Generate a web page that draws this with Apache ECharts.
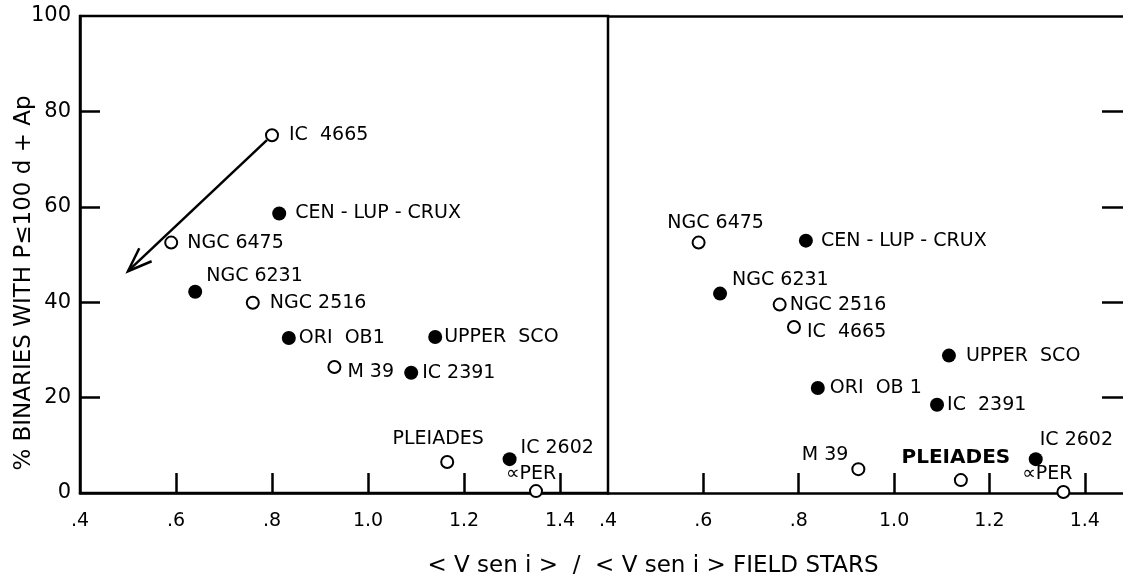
<!DOCTYPE html>
<html>
<head>
<meta charset="utf-8">
<script src="https://cdn.jsdelivr.net/npm/echarts@6/dist/echarts.min.js"></script>
<style>
html,body{margin:0;padding:0;background:#fff;}
#chart{width:1123px;height:580px;}
</style>
</head>
<body>
<div id="chart"></div>
<script>
// tick labels
var xTicks = [0.6, 0.8, 1.0, 1.2, 1.4];
var xLabels = [0.4, 0.6, 0.8, 1.0, 1.2, 1.4];
var yTicks = [20, 40, 60, 80];

// left panel (all stars)
var leftNames  = ['IC  4665', 'CEN - LUP - CRUX', 'NGC 6475', 'NGC 6231', 'NGC 2516', 'ORI  OB1', 'UPPER  SCO', 'M 39', 'IC 2391', 'PLEIADES', 'IC 2602', '\u221DPER'];
var leftX      = [0.80, 0.815, 0.59, 0.64, 0.76, 0.835, 1.14, 0.93, 1.09, 1.165, 1.295, 1.35];
var leftY      = [75, 58.6, 52.5, 42.2, 39.9, 32.5, 32.7, 26.4, 25.2, 6.5, 7.1, 0.4];
var leftFilled = [0, 1, 0, 1, 0, 1, 1, 0, 1, 0, 1, 0];

// right panel
var rightNames  = ['NGC 6475', 'CEN - LUP - CRUX', 'NGC 6231', 'NGC 2516', 'IC  4665', 'UPPER  SCO', 'ORI  OB 1', 'IC  2391', 'M 39', 'PLEIADES', 'IC 2602', '\u221DPER'];
var rightX      = [0.59, 0.815, 0.635, 0.76, 0.79, 1.115, 0.84, 1.09, 0.925, 1.14, 1.297, 1.355];
var rightY      = [52.5, 52.9, 41.8, 39.5, 34.8, 28.8, 22.0, 18.5, 5.0, 2.7, 7.1, 0.2];
var rightFilled = [0, 1, 1, 0, 0, 1, 1, 1, 0, 0, 1, 0];

// arrow IC 4665 -> lower left
var arrowFrom = [0.80, 75];
var arrowTo   = [0.50, 46.5];

// label placement: [position, distance, dx, dy, (fontSize, weight)]
var leftLabelLayout = [
    ['right', 10, 0, 0], ['right', 9, 0, 0], ['right', 9, 0, 0], ['right', 4, 0, -16],
    ['right', 10, 0, 0], ['right', 3, 0, 0], ['right', 2, 0, 0], ['right', 6, 0, 5],
    ['right', 4, 0, 0], ['top', 6, -9, 0], ['right', 4, 0, -11], ['top', 1, -5, 0]
];
var rightLabelLayout = [
    ['top', 3, 17, 0], ['right', 8, 0, 0], ['right', 5, 0, -14], ['right', 3, 0, 0],
    ['right', 6, 0, 5], ['right', 10, 0, 0], ['right', 5, 0, 0], ['right', 3, 0, 0],
    ['left', 3, 0, -14], ['top', 5, -5, 0, 20, 'bold'], ['right', 0, -3, -19], ['top', 1, -16, 0]
];

var FONT = 'DejaVu Sans';
var LW = 2.5;

function buildData(names, xs, ys, filled, layout, want) {
    var out = [];
    for (var i = 0; i < names.length; i++) {
        if (filled[i] != want) continue;
        var l = layout[i];
        var lab = {position: l[0], distance: l[1], offset: [l[2], l[3]]};
        if (l[4]) { lab.fontSize = l[4]; lab.fontWeight = l[5]; }
        out.push({name: names[i], value: [xs[i], ys[i]], label: lab});
    }
    return out;
}

function fmtX(v) {
    return v < 1 ? String(+v.toFixed(1)).replace('0.', '.') : v.toFixed(1);
}

function scatter(grid, data, filled) {
    return {
        type: 'scatter',
        xAxisIndex: grid, yAxisIndex: grid,
        symbol: 'circle',
        symbolSize: filled ? 14 : 12,
        itemStyle: filled ? {color: '#000', opacity: 1} : {color: '#fff', borderColor: '#000', borderWidth: 2, opacity: 1},
        label: {
            show: true,
            formatter: '{b}',
            color: '#000',
            opacity: 1,
            fontFamily: FONT,
            fontSize: 19
        },
        emphasis: {disabled: true},
        data: data,
        z: 5
    };
}

var myChart = echarts.init(document.getElementById('chart'));

var bottomAxis = {
    type: 'value', min: 0.4, max: 1.5,
    axisLine: {show: true, lineStyle: {color: '#000', width: LW}},
    axisTick: {show: true, inside: true, length: 20, customValues: xTicks, lineStyle: {color: '#000', width: LW}},
    axisLabel: {show: true, customValues: xLabels, formatter: fmtX, color: '#000', fontFamily: FONT, fontSize: 19, margin: 19},
    splitLine: {show: false}
};

var option = {
    backgroundColor: '#fff',
    animation: false,
    grid: [
        {left: 80, top: 16, width: 528, height: 477, show: true, borderColor: '#000', borderWidth: LW, outerBoundsMode: 'none'},
        {left: 608, top: 16, right: 0, height: 477, show: false, outerBoundsMode: 'none'}
    ]
};

option.xAxis = [
    Object.assign({gridIndex: 0}, bottomAxis),
    Object.assign({gridIndex: 1}, bottomAxis, {max: 1.48}),
    {
        gridIndex: 1, type: 'value', position: 'top', min: 0.4, max: 1.48,
        axisLine: {show: true, lineStyle: {color: '#000', width: LW}},
        axisTick: {show: false}, axisLabel: {show: false}, splitLine: {show: false}
    }
];

option.yAxis = [
    {
        gridIndex: 0, type: 'value', min: 0, max: 100, interval: 20,
        axisLine: {show: true, lineStyle: {color: '#000', width: LW}},
        axisTick: {show: true, inside: true, length: 20, customValues: yTicks, lineStyle: {color: '#000', width: LW}},
        axisLabel: {color: '#000', fontFamily: FONT, fontSize: 21, margin: 9},
        splitLine: {show: false}
    },
    {
        gridIndex: 1, type: 'value', position: 'right', min: 0, max: 100, interval: 20,
        axisLine: {show: false},
        axisTick: {show: true, inside: true, length: 21, customValues: yTicks, lineStyle: {color: '#000', width: LW}},
        axisLabel: {show: false},
        splitLine: {show: false}
    }
];

option.series = [
    scatter(0, buildData(leftNames, leftX, leftY, leftFilled, leftLabelLayout, 0), false),
    scatter(0, buildData(leftNames, leftX, leftY, leftFilled, leftLabelLayout, 1), true),
    scatter(1, buildData(rightNames, rightX, rightY, rightFilled, rightLabelLayout, 0), false),
    scatter(1, buildData(rightNames, rightX, rightY, rightFilled, rightLabelLayout, 1), true),
    {
        type: 'custom',
        xAxisIndex: 0, yAxisIndex: 0,
        data: [[arrowFrom[0], arrowFrom[1], arrowTo[0], arrowTo[1]]],
        renderItem: function (params, api) {
            var p0 = api.coord([api.value(0), api.value(1)]);
            var p1 = api.coord([api.value(2), api.value(3)]);
            var dx = p1[0] - p0[0], dy = p1[1] - p0[1];
            var len = Math.sqrt(dx * dx + dy * dy);
            var ux = dx / len, uy = dy / len;
            var s = [p0[0] + ux * 7, p0[1] + uy * 7];
            var bx = p1[0] - ux * 24, by = p1[1] - uy * 24;
            var h1 = [bx - uy * 9, by + ux * 9], h2 = [bx + uy * 9, by - ux * 9];
            return {
                type: 'group',
                children: [
                    {type: 'line', shape: {x1: s[0], y1: s[1], x2: p1[0], y2: p1[1]}, style: {stroke: '#000', lineWidth: LW}},
                    {type: 'polyline', shape: {points: [h1, p1, h2]}, style: {stroke: '#000', lineWidth: LW, fill: null}}
                ]
            };
        },
        z: 4
    }
];

// axis titles
option.graphic = [
    {
        type: 'text', x: 24, y: 283, rotation: Math.PI / 2,
        style: {
            text: '% BINARIES WITH P\u2264100 d + Ap',
            font: '23px ' + FONT, fill: '#000',
            align: 'center', verticalAlign: 'middle', textAlign: 'center', textVerticalAlign: 'middle'
        }
    },
    {
        type: 'text', x: 653, y: 566,
        style: {
            text: '< V sen i >  /  < V sen i > FIELD STARS',
            font: '23px ' + FONT, fill: '#000',
            align: 'center', verticalAlign: 'middle', textAlign: 'center', textVerticalAlign: 'middle'
        }
    }
];

myChart.setOption(option, true);
</script>
</body>
</html>
